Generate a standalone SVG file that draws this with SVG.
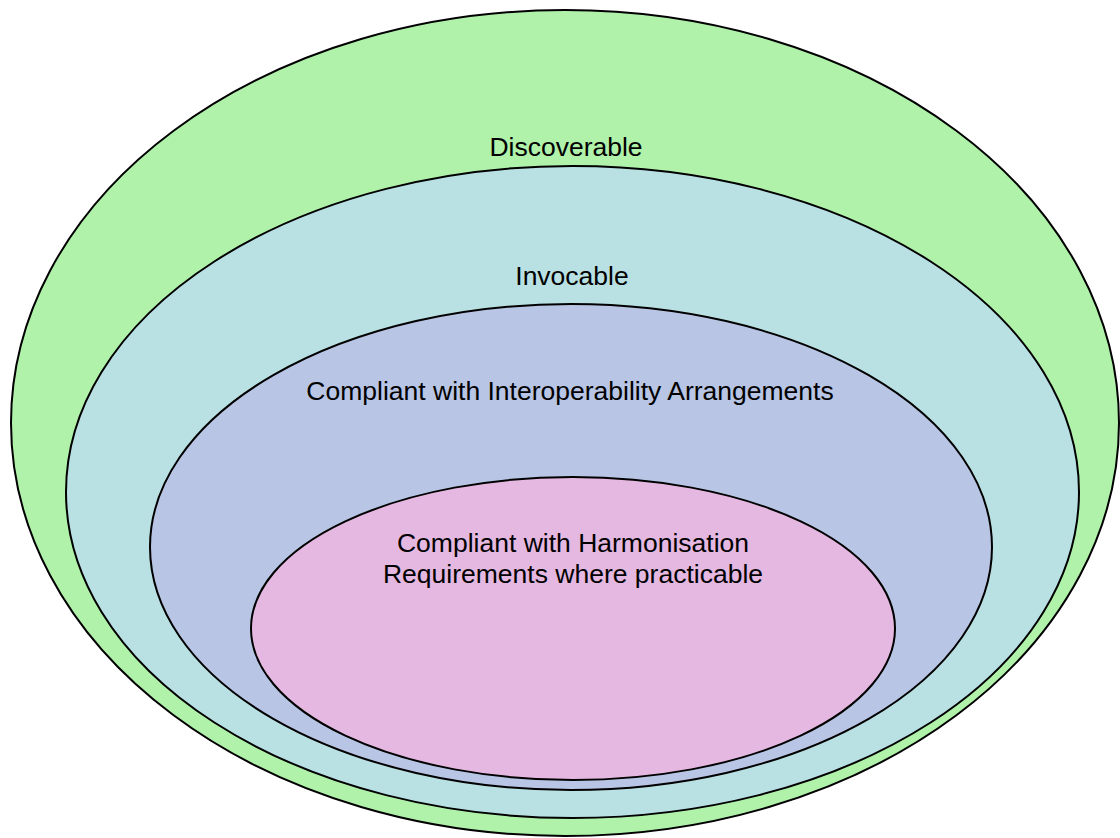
<svg xmlns="http://www.w3.org/2000/svg" width="1120" height="838" viewBox="0 0 1120 838">
<style>
.e{stroke:#000;stroke-width:2}
.t{font-family:"Liberation Sans",Arial,sans-serif;font-size:26.5px;fill:#000;text-anchor:middle}
</style>
<rect width="1120" height="838" fill="#fff"/>
<g id="discoverable">
<ellipse class="e" cx="565" cy="423" rx="554" ry="413" fill="#b0f2aa"/>
<text class="t" x="566" y="156">Discoverable</text>
</g>
<g id="invocable">
<ellipse class="e" cx="572.5" cy="492" rx="506.5" ry="326" fill="#b9e0e3"/>
<text class="t" x="572" y="285">Invocable</text>
</g>
<g id="interoperability">
<ellipse class="e" cx="571" cy="547" rx="421" ry="243" fill="#b8c5e4"/>
<text class="t" x="570" y="400">Compliant with Interoperability Arrangements</text>
</g>
<g id="harmonisation">
<ellipse class="e" cx="573" cy="628.5" rx="322" ry="151.5" fill="#e5b8e1"/>
<text class="t" x="573" y="552">Compliant with Harmonisation</text>
<text class="t" x="573" y="583">Requirements where practicable</text>
</g>
<g id="connectors"></g>
</svg>
